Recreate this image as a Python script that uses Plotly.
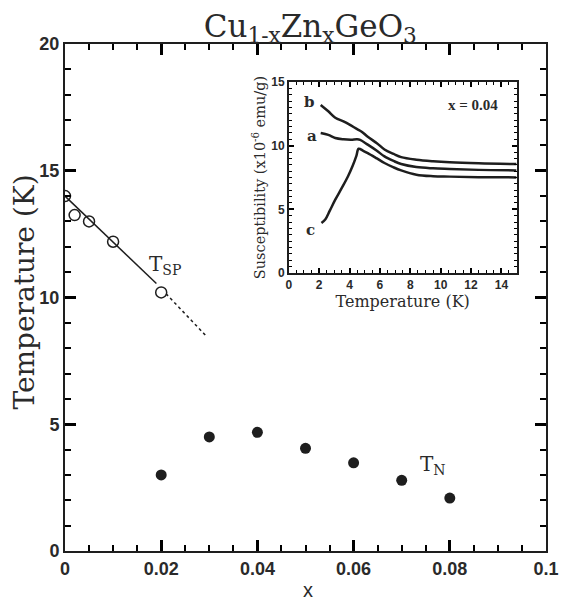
import plotly.graph_objects as go

# ---- main panel data ----
tsp_x = [0.0, 0.002, 0.005, 0.010, 0.020]
tsp_T = [14.0, 13.25, 13.0, 12.2, 10.2]
fit_solid_x = [0.0, 0.019]
fit_solid_T = [14.0, 10.55]
fit_dot_x = [0.021, 0.0295]
fit_dot_T = [10.15, 8.45]
tn_x = [0.02, 0.03, 0.04, 0.05, 0.06, 0.07, 0.08]
tn_T = [3.0, 4.5, 4.68, 4.05, 3.48, 2.79, 2.09]

# ---- inset data (susceptibility vs temperature, x = 0.04) ----
a_T = [2.1, 2.6, 3.06, 3.6, 4.1, 4.5, 4.7, 5.2, 5.8, 6.3, 6.9, 7.4, 8.4, 9.5, 10.6, 12.5, 15.0]
a_chi = [11.0, 10.85, 10.6, 10.5, 10.47, 10.5, 10.45, 10.08, 9.6, 9.16, 8.8, 8.56, 8.32, 8.22, 8.17, 8.1, 8.06]
b_T = [2.1, 2.6, 3.06, 3.6, 4.0, 4.5, 4.8, 5.2, 5.8, 6.3, 6.9, 7.4, 8.4, 9.5, 10.6, 12.5, 15.0]
b_chi = [13.2, 12.7, 12.2, 11.9, 11.65, 11.3, 11.1, 10.7, 10.2, 9.7, 9.35, 9.1, 8.9, 8.78, 8.7, 8.62, 8.56]
c_T = [2.15, 2.4, 2.7, 3.06, 3.5, 3.9, 4.2, 4.45, 4.6, 4.9, 5.2, 5.8, 6.3, 6.9, 7.4, 8.4, 9.5, 10.6, 12.5, 15.0]
c_chi = [3.93, 4.2, 4.9, 5.76, 6.7, 7.6, 8.4, 9.2, 9.76, 9.6, 9.42, 9.0, 8.64, 8.3, 8.06, 7.72, 7.6, 7.57, 7.53, 7.51]

main_xticks = [0, 0.02, 0.04, 0.06, 0.08, 0.1]
main_xticktext = ["0", "0.02", "0.04", "0.06", "0.08", "0.1"]

title_text = "Cu<sub>1-x</sub>Zn<sub>x</sub>GeO<sub>3</sub>"
serif = "DejaVu Serif, serif"
sans = "Liberation Sans, Arial, sans-serif"
ink = "#1e1e1e"
tickc = "black"
txt = "#2a2a2a"

fig = go.Figure()

# main panel
fig.add_trace(go.Scatter(x=fit_solid_x, y=fit_solid_T, mode="lines",
                         line=dict(color=ink, width=1.5), showlegend=False))
fig.add_trace(go.Scatter(x=fit_dot_x, y=fit_dot_T, mode="lines",
                         line=dict(color=ink, width=1.5, dash="dot"), showlegend=False))
fig.add_trace(go.Scatter(x=tsp_x, y=tsp_T, mode="markers",
                         marker=dict(symbol="circle-open", size=11, color=ink,
                                     line=dict(width=1.5, color=ink)),
                         showlegend=False))
fig.add_trace(go.Scatter(x=tn_x, y=tn_T, mode="markers",
                         marker=dict(symbol="circle", size=11, color=ink),
                         showlegend=False))

# inset
for xs, ys in [(a_T, a_chi), (b_T, b_chi), (c_T, c_chi)]:
    fig.add_trace(go.Scatter(x=xs, y=ys, mode="lines", xaxis="x2", yaxis="y2",
                             line=dict(color=ink, width=2.5, shape="spline"),
                             showlegend=False))

main_axis = dict(showgrid=False, zeroline=False, showline=True, linecolor=ink,
                 linewidth=2, mirror="ticks", ticks="inside", tickcolor=tickc,
                 tickwidth=2.5, ticklen=11,
                 tickfont=dict(family=sans, size=18, color=txt, weight="bold"))

inset_axis = dict(range=[0, 15], showgrid=False, zeroline=False, showline=True,
                  linecolor=ink, linewidth=1.5, mirror="ticks", ticks="inside",
                  ticklen=5, tickcolor=tickc, tickwidth=1.5,
                  minor=dict(ticks="inside", tick0=0, dtick=0.5, ticklen=3,
                             tickcolor=tickc, tickwidth=1),
                  tickfont=dict(family=sans, size=12, color=txt, weight="bold"))

# the page body has an 8px margin, so the figure is sized to fit the window
fig.update_layout(
    width=563, height=592,
    margin=dict(l=57, r=16, t=36, b=49),
    paper_bgcolor="white", plot_bgcolor="white",
    title=dict(text=title_text, xref="paper", x=0.51, xanchor="center",
               y=0.97, yanchor="middle", font=dict(family=serif, size=31, color=txt)),
    xaxis=dict(main_axis, range=[0, 0.1], tickmode="array", tickvals=main_xticks,
               ticktext=main_xticktext,
               minor=dict(ticks="inside", tick0=0, dtick=0.005, ticklen=6,
                          tickcolor=tickc, tickwidth=1.5)),
    yaxis=dict(main_axis, range=[0, 20], dtick=5,
               minor=dict(ticks="inside", tick0=0, dtick=1, ticklen=6,
                          tickcolor=tickc, tickwidth=1.5)),
    xaxis2=dict(inset_axis, domain=[0.4653, 0.9388], anchor="y2", dtick=2,
                title=dict(text="Temperature (K)", font=dict(family=serif, size=16, color=txt),
                           standoff=0)),
    yaxis2=dict(inset_axis, domain=[0.5483, 0.925], anchor="x2", dtick=5,
                title=dict(text="Susceptibility (x10<sup>-6</sup> emu/g)",
                           font=dict(family=serif, size=14.5, color=txt), standoff=2)),
    annotations=[
        # main axis titles
        dict(x=-0.084, y=0.511, xref="paper", yref="paper", showarrow=False,
             textangle=-90, xanchor="center", yanchor="middle",
             text="Temperature (K)", font=dict(family=serif, size=28, color=txt)),
        dict(x=0.506, y=-0.077, xref="paper", yref="paper", showarrow=False,
             xanchor="center", yanchor="middle",
             text="x", font=dict(family=sans, size=20, color=txt)),
        # labels
        dict(x=0.0208, y=11.3, xref="x", yref="y", showarrow=False,
             text="T<sub>SP</sub>", font=dict(family=serif, size=20, color=txt)),
        dict(x=0.0765, y=3.4, xref="x", yref="y", showarrow=False,
             text="T<sub>N</sub>", font=dict(family=serif, size=20, color=txt)),
        dict(x=1.38, y=13.4, xref="x2", yref="y2", showarrow=False,
             text="<b>b</b>", font=dict(family=serif, size=15, color=txt)),
        dict(x=1.5, y=10.8, xref="x2", yref="y2", showarrow=False,
             text="<b>a</b>", font=dict(family=serif, size=15, color=txt)),
        dict(x=1.44, y=3.4, xref="x2", yref="y2", showarrow=False,
             text="<b>c</b>", font=dict(family=serif, size=15, color=txt)),
        dict(x=12.1, y=13.2, xref="x2", yref="y2", showarrow=False,
             text="<b>x = 0.04</b>", font=dict(family="Liberation Serif, serif", size=15, color=txt)),
    ],
)

fig.write_html("out.html")
